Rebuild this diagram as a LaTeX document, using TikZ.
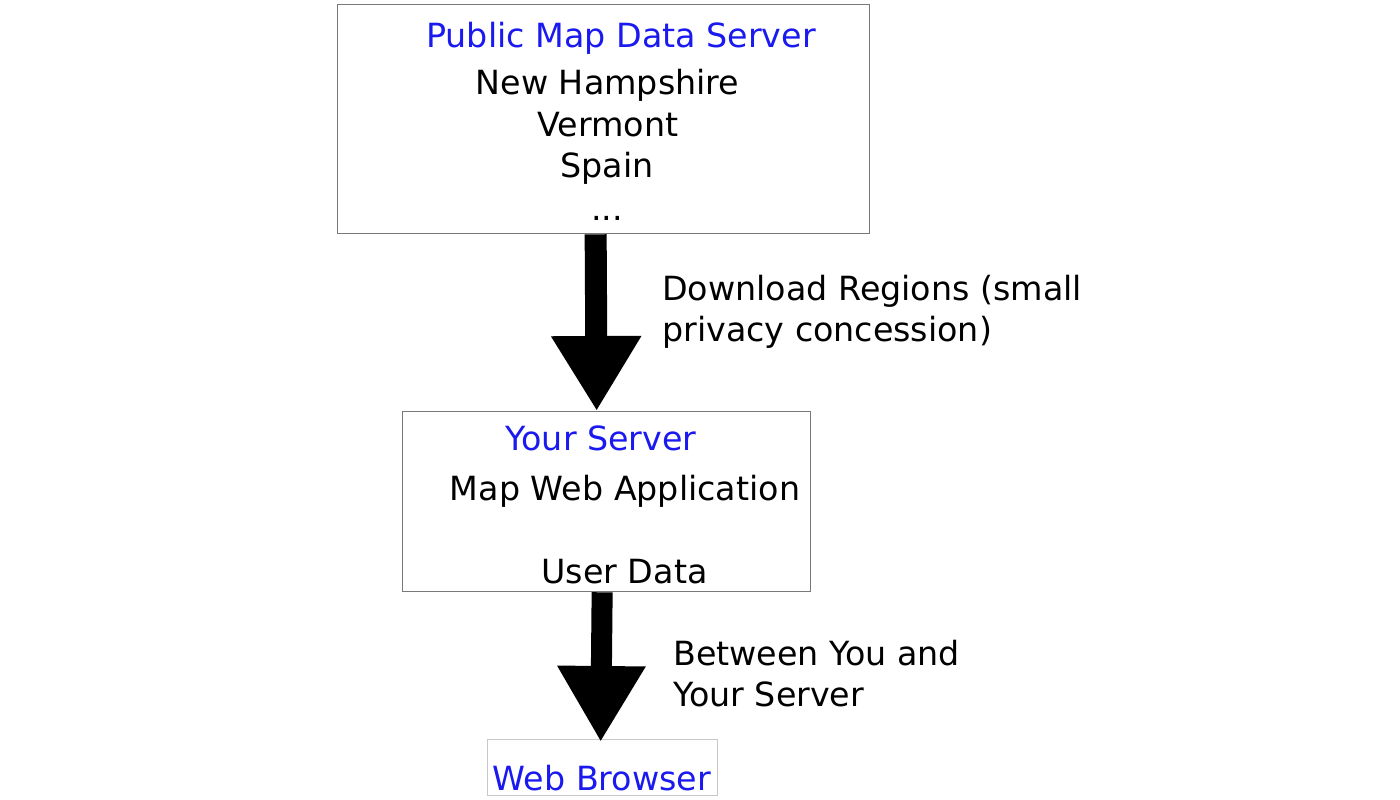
\documentclass[tikz,border=0pt]{standalone}
\usepackage{fontspec}
\setmainfont{DejaVu Sans}
\usetikzlibrary{arrows.meta}
\definecolor{ttl}{RGB}{25,25,240}
\definecolor{bord}{RGB}{120,120,120}
\definecolor{lbord}{RGB}{200,200,200}
\tikzset{
  box/.style={draw=bord, line width=1.3pt, rectangle, inner sep=0pt, anchor=north west},
  txt/.style={inner sep=0pt, anchor=base, font=\fontsize{33.3}{41}\selectfont},
  ltxt/.style={inner sep=0pt, anchor=base west, font=\fontsize{33.3}{41}\selectfont},
  ttxt/.style={txt, text=ttl},
  bigarrow/.style={line width=22pt, -{Triangle[length=75pt 0 0, width=85pt 0 0]}}
}
\begin{document}
\begin{tikzpicture}[x=1pt,y=-1pt]
\useasboundingbox (0,0) rectangle (1400,800);
\fill[white] (0,0) rectangle (1400,800);
% boxes
\node[box, minimum width=532pt, minimum height=229pt] (pub) at (337,4) {};
\node[box, minimum width=408pt, minimum height=180pt] (srv) at (402,411) {};
\node[box, draw=lbord, minimum width=230pt, minimum height=56pt] (web) at (487,739) {};
% texts
\node[ttxt] (t1) at (621,48) {Public Map Data Server};
\node[txt] (r1) at (607.5,94) {New Hampshire};
\node[txt] (r2) at (608,136) {Vermont};
\node[txt] (r3) at (607,177) {Spain};
\node[txt] (r4) at (607,220) {...};
\node[ttxt] (t2) at (601,450) {Your Server};
\node[txt] (s1) at (625,500) {Map Web Application};
\node[txt] (s2) at (624.5,583) {User Data};
\node[ttxt] (t3) at (602,790) {Web Browser};
\node[ltxt] (l1) at (662,300) {Download Regions (small};
\node[ltxt] (l2) at (662,341) {privacy concession)};
\node[ltxt] (l3) at (673,665) {Between You and};
\node[ltxt] (l4) at (673,706) {Your Server};
% arrows
\draw[bigarrow] ([xshift=-8pt]pub.south) -- ([xshift=-10pt]srv.north);
\draw[bigarrow, line width=21pt, -{Triangle[length=76pt 0 0, width=83pt 0 0]}] ([xshift=-4.5pt]srv.south) -- ([xshift=-2pt,yshift=-3pt]web.north);
\end{tikzpicture}
\end{document}
